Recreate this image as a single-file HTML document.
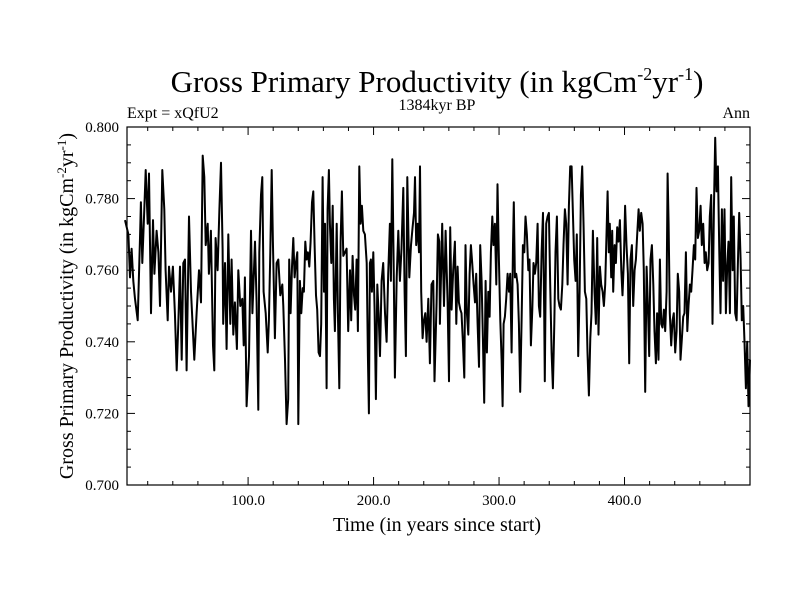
<!DOCTYPE html>
<html><head><meta charset="utf-8"><style>
body{margin:0;background:#fff}
svg text{font-family:"Liberation Serif",serif;fill:#000}
</style></head><body>
<svg id="chart" width="800" height="600" xmlns="http://www.w3.org/2000/svg">
<text x="437" y="92" font-size="31" text-anchor="middle">Gross Primary Productivity (in kgCm<tspan dy="-12" font-size="18">-2</tspan><tspan dy="12">yr</tspan><tspan dy="-12" font-size="18">-1</tspan><tspan dy="12">)</tspan></text>
<text x="127" y="118" font-size="16">Expt = xQfU2</text>
<text x="437" y="110" font-size="16" text-anchor="middle">1384kyr BP</text>
<text x="750" y="118" font-size="16" text-anchor="end">Ann</text>
<text x="437" y="531" font-size="20" text-anchor="middle">Time (in years since start)</text>
<text transform="translate(73,306) rotate(-90)" font-size="20" text-anchor="middle">Gross Primary Productivity (in kgCm<tspan dy="-7" font-size="13">-2</tspan><tspan dy="7">yr</tspan><tspan dy="-7" font-size="13">-1</tspan><tspan dy="7">)</tspan></text>
<g id="ticks"></g>
<g id="series"></g>
<rect x="127" y="127" width="623" height="358" fill="none" stroke="#000" stroke-width="1.2"/>
</svg>
<script>
const xTickValues=[100,200,300,400];
const xTickLabels=["100.0","200.0","300.0","400.0"];
const yTickValues=[0.70,0.72,0.74,0.76,0.78,0.80];
const yTickLabels=["0.700","0.720","0.740","0.760","0.780","0.800"];
const years=[1.9,4.6,5.9,7.2,8.5,9.9,12.0,13.9,14.6,15.7,17.3,18.4,20.0,21.0,22.6,24.2,25.3,27.1,28.5,29.8,31.6,33.2,34.3,35.9,37.0,38.6,40.1,41.7,43.1,44.4,45.7,47.1,48.4,49.7,51.0,52.9,54.5,57.1,59.0,60.9,62.5,63.8,65.1,66.2,67.8,68.8,70.4,72.0,73.1,74.1,75.7,77.1,78.4,79.7,80.2,81.6,82.9,84.2,85.8,86.9,88.2,89.5,91.1,92.2,93.8,95.4,96.5,97.5,98.8,100.7,102.3,103.4,105.5,106.8,108.1,108.9,110.3,111.3,112.4,114.0,115.6,116.6,117.7,118.8,119.8,121.4,122.7,124.1,125.7,127.3,
128.1,129.4,130.7,132.0,132.8,133.9,135.0,136.0,137.1,138.1,139.2,140.0,141.3,142.4,143.5,144.5,145.6,146.6,147.7,148.8,149.8,150.9,152.0,153.0,154.1,155.1,156.2,157.3,158.3,159.4,160.5,161.3,162.6,163.4,164.4,165.2,166.3,167.4,168.4,169.2,170.6,171.6,172.7,173.7,174.8,175.9,177.2,178.5,179.8,181.2,182.2,183.3,184.4,185.4,186.5,187.5,188.6,189.7,190.7,191.8,193.1,194.5,195.5,196.3,197.1,197.9,198.7,199.8,200.8,201.9,203.0,204.0,205.1,206.4,207.7,209.1,210.4,211.7,213.0,213.8,214.9,216.0,217.0,218.4,219.7,221.0,222.3,223.7,224.7,225.8,226.9,228.5,229.8,231.1,232.2,233.0,234.0,235.1,236.2,237.0,238.0,239.1,240.1,241.2,242.3,243.6,244.9,246.2,247.6,248.6,250.2,251.3,252.4,
252.9,254.7,256.1,257.4,259.0,260.1,261.1,262.2,263.5,264.8,265.9,267.0,268.0,269.1,270.1,271.2,272.3,273.3,274.4,275.5,276.5,277.6,278.6,279.7,280.8,281.8,282.9,284.0,285.0,286.1,287.1,288.2,289.3,290.3,291.4,292.5,293.5,294.6,295.6,296.7,297.8,298.8,299.9,301.0,302.0,302.8,303.6,304.7,305.7,306.8,307.9,308.9,310.0,311.1,311.8,312.6,313.7,314.8,315.8,316.9,318.0,319.0,320.1,321.1,322.2,323.3,324.3,325.4,326.5,327.5,328.6,329.6,330.7,331.8,332.8,333.9,335.0,336.0,336.5,337.6,338.7,339.7,340.8,341.9,342.9,344.0,345.0,346.1,347.2,348.2,349.3,350.4,351.4,352.5,353.5,354.6,355.7,356.7,357.8,358.9,359.9,361.0,362.0,363.1,364.2,365.2,366.3,367.4,368.4,369.5,370.5,371.6,372.7,373.7,374.8,
376.1,377.2,378.2,379.3,380.4,381.4,382.5,383.6,384.6,385.7,386.5,387.5,388.3,389.4,390.2,391.0,392.1,393.1,394.2,395.2,396.3,397.4,398.4,399.5,400.5,401.6,402.7,403.7,404.8,405.9,406.9,408.0,409.1,410.1,411.2,412.2,413.3,414.4,415.4,416.5,417.6,418.6,419.7,420.7,421.8,422.9,423.9,425.0,426.0,427.1,428.2,429.2,430.3,431.4,432.4,433.5,434.3,435.1,436.1,437.2,438.3,439.3,440.4,441.5,442.5,443.6,444.6,445.7,446.8,447.8,448.9,450.0,451.0,452.1,453.1,454.2,455.3,456.3,457.4,458.5,459.5,460.6,461.6,462.7,463.8,464.8,465.9,467.0,468.0,469.1,470.1,471.2,472.3,473.3,474.4,475.5,476.5,477.6,478.6,479.7,480.8,481.8,482.9,484.0,485.0,486.1,487.1,488.2,489.3,490.3,491.4,492.5,493.5,494.6,495.6,496.7,497.8,498.8,500.0];
const gpp=[0.774,0.770,0.758,0.766,0.757,0.752,0.746,0.769,0.779,0.762,0.777,0.788,0.773,0.787,0.748,0.774,0.759,0.771,0.765,0.750,0.788,0.777,0.760,0.746,0.761,0.754,0.761,0.748,0.732,0.745,0.761,0.735,0.762,0.763,0.732,0.775,0.754,0.735,0.748,0.760,0.751,0.792,0.786,0.767,0.773,0.759,0.771,0.739,0.732,0.769,0.760,0.777,0.790,0.766,0.745,0.762,0.738,0.770,0.745,0.763,0.742,0.751,0.738,0.760,0.750,0.752,0.739,0.758,0.722,0.736,0.771,0.748,0.768,0.751,0.721,0.765,0.781,0.786,0.754,0.748,0.737,0.746,0.765,0.788,0.768,0.741,0.762,0.763,0.753,0.756,
0.750,0.735,0.717,0.724,0.763,0.748,0.761,0.769,0.758,0.762,0.765,0.717,0.757,0.748,0.755,0.754,0.768,0.763,0.765,0.761,0.768,0.779,0.782,0.767,0.753,0.749,0.737,0.736,0.745,0.786,0.754,0.773,0.727,0.777,0.788,0.773,0.762,0.778,0.752,0.743,0.773,0.748,0.727,0.768,0.782,0.764,0.765,0.766,0.743,0.760,0.746,0.764,0.753,0.749,0.763,0.743,0.789,0.773,0.778,0.771,0.770,0.762,0.736,0.720,0.762,0.763,0.754,0.765,0.749,0.724,0.756,0.748,0.736,0.757,0.762,0.748,0.740,0.759,0.773,0.757,0.791,0.763,0.730,0.758,0.771,0.757,0.766,0.783,0.754,0.736,0.786,0.758,0.767,0.772,0.776,0.786,0.767,0.773,0.765,0.789,0.754,0.741,0.746,0.748,0.740,0.752,0.734,0.756,0.757,0.729,0.751,0.770,0.768,
0.745,0.773,0.750,0.771,0.751,0.729,0.772,0.749,0.760,0.768,0.745,0.761,0.751,0.749,0.748,0.740,0.730,0.767,0.748,0.742,0.759,0.767,0.762,0.756,0.751,0.759,0.745,0.733,0.767,0.757,0.741,0.723,0.757,0.737,0.754,0.747,0.765,0.775,0.767,0.773,0.756,0.784,0.763,0.746,0.735,0.722,0.745,0.747,0.752,0.759,0.754,0.759,0.737,0.767,0.779,0.758,0.759,0.756,0.745,0.726,0.746,0.767,0.765,0.775,0.770,0.760,0.763,0.739,0.749,0.762,0.759,0.762,0.773,0.750,0.747,0.765,0.776,0.748,0.729,0.773,0.775,0.776,0.756,0.737,0.727,0.745,0.765,0.775,0.752,0.750,0.749,0.756,0.767,0.777,0.773,0.756,0.778,0.789,0.789,0.775,0.763,0.757,0.770,0.736,0.754,0.781,0.789,0.772,0.754,0.752,0.737,0.725,0.741,0.748,0.771,
0.754,0.745,0.769,0.742,0.761,0.756,0.754,0.750,0.756,0.771,0.782,0.765,0.773,0.758,0.771,0.754,0.767,0.762,0.772,0.768,0.774,0.760,0.753,0.763,0.778,0.767,0.759,0.734,0.763,0.767,0.750,0.760,0.763,0.770,0.777,0.771,0.776,0.773,0.760,0.726,0.761,0.750,0.736,0.763,0.767,0.756,0.743,0.734,0.748,0.735,0.763,0.745,0.744,0.749,0.743,0.754,0.787,0.773,0.748,0.739,0.746,0.748,0.737,0.743,0.759,0.754,0.735,0.741,0.747,0.748,0.765,0.743,0.750,0.756,0.754,0.760,0.767,0.763,0.783,0.769,0.771,0.778,0.767,0.773,0.762,0.765,0.760,0.762,0.775,0.781,0.745,0.777,0.797,0.782,0.789,0.765,0.748,0.777,0.757,0.777,0.748,0.761,0.768,0.748,0.786,0.760,0.775,0.748,0.746,0.761,0.776,0.763,0.746,0.750,0.740,0.727,0.740,0.722,0.735];
const X0=127,X1=750,Y0=485,Y1=127,xMin=3.5,xMax=500,yMin=0.70,yMax=0.80;
function xs(v){return X0+(v-xMin)/(xMax-xMin)*(X1-X0);}
function ys(v){return Y0-(v-yMin)/(yMax-yMin)*(Y0-Y1);}
const NS="http://www.w3.org/2000/svg";
const tg=document.getElementById('ticks');
function line(x1,y1,x2,y2){const l=document.createElementNS(NS,'line');l.setAttribute('x1',x1);l.setAttribute('y1',y1);l.setAttribute('x2',x2);l.setAttribute('y2',y2);l.setAttribute('stroke','#000');l.setAttribute('stroke-width','1');


tg.appendChild(l);}
for(let v=20;v<500;v+=20){const x=xs(v);const L=(v%100===0)?8:4;line(x,Y0,x,Y0-L);line(x,Y1,x,Y1+L);}
for(let i=0;i<=20;i++){const v=yMin+i*0.005;const y=ys(v);const L=(i%4===0)?8:4;line(X0,y,X0+L,y);line(X1,y,X1-L,y);}
xTickValues.forEach((v,i)=>{const t=document.createElementNS(NS,'text');t.setAttribute('x',xs(v));t.setAttribute('y',Y0+20);t.setAttribute('font-size','15');t.setAttribute('text-anchor','middle');t.textContent=xTickLabels[i];


tg.appendChild(t);});
yTickValues.forEach((v,i)=>{const t=document.createElementNS(NS,'text');t.setAttribute('x',X0-8);t.setAttribute('y',ys(v)+5);t.setAttribute('font-size','15');t.setAttribute('text-anchor','end');t.textContent=yTickLabels[i];


tg.appendChild(t);});
const p=document.createElementNS(NS,'polyline');
p.setAttribute('points',years.map((y,i)=>xs(y).toFixed(1)+','+ys(gpp[i]).toFixed(1)).join(' '));
p.setAttribute('fill','none');p.setAttribute('stroke','#000');p.setAttribute('stroke-width','2');p.setAttribute('stroke-linejoin','round');


document.getElementById('series').appendChild(p);
</script>
</body></html>
